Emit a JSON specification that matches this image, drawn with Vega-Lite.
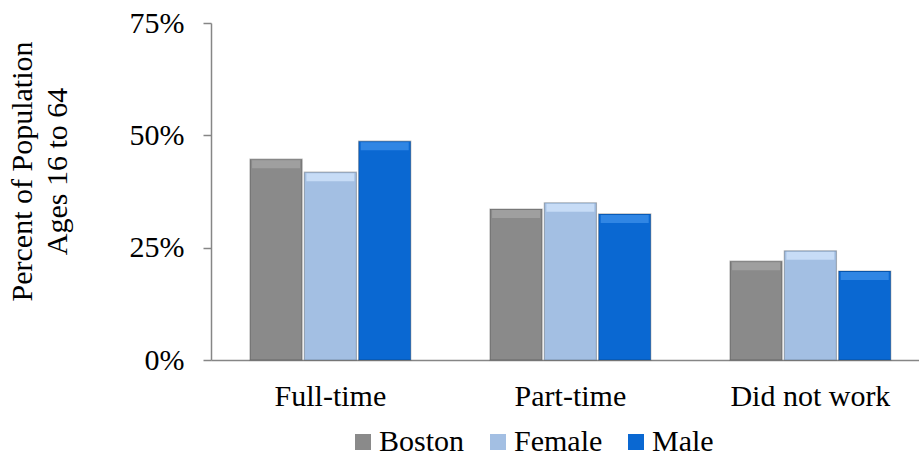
{
  "$schema": "https://vega.github.io/schema/vega-lite/v6.json",
  "width": 708,
  "height": 337,
  "autosize": "none",
  "padding": {"left": 211, "top": 23, "right": 0, "bottom": 97},
  "background": "white",
  "config": {
    "view": {"stroke": null},
    "font": "Liberation Serif",
    "axis": {"labelFont": "Liberation Serif", "titleFont": "Liberation Serif", "labelColor": "#000000", "titleColor": "#000000"},
    "legend": {"labelFont": "Liberation Serif", "labelColor": "#000000", "labelFontSize": 30}
  },
  "data": {
    "values": [
      {"status": "Full-time", "group": "Boston", "share": 0.447},
      {"status": "Full-time", "group": "Female", "share": 0.418},
      {"status": "Full-time", "group": "Male", "share": 0.487},
      {"status": "Part-time", "group": "Boston", "share": 0.336},
      {"status": "Part-time", "group": "Female", "share": 0.350},
      {"status": "Part-time", "group": "Male", "share": 0.325},
      {"status": "Did not work", "group": "Boston", "share": 0.220},
      {"status": "Did not work", "group": "Female", "share": 0.243},
      {"status": "Did not work", "group": "Male", "share": 0.198}
    ]
  },
  "encoding": {
    "x": {
      "field": "status",
      "type": "nominal",
      "sort": ["Full-time", "Part-time", "Did not work"],
      "scale": {"paddingInner": 0.33, "paddingOuter": 0.14, "align": 0.58},
      "axis": {
        "title": null,
        "labelAngle": 0,
        "labelFontSize": 30,
        "labelPadding": 21,
        "ticks": false,
        "domainColor": "#868686",
        "domainWidth": 1.5
      }
    },
    "xOffset": {
      "field": "group",
      "type": "nominal",
      "sort": ["Boston", "Female", "Male"],
      "scale": {"paddingInner": 0.04}
    },
    "y": {
      "field": "share",
      "type": "quantitative",
      "scale": {"domain": [0, 0.75], "nice": false},
      "axis": {
        "values": [0, 0.25, 0.5, 0.75],
        "format": ".0%",
        "grid": false,
        "labelFontSize": 30,
        "labelPadding": 19,
        "tickSize": 8,
        "tickColor": "#868686",
        "tickWidth": 1.5,
        "domainColor": "#868686",
        "domainWidth": 1.5,
        "title": ["Percent of Population", "Ages 16 to 64"],
        "titleFontSize": 30,
        "titleFontWeight": "normal",
        "titlePadding": 57,
        "titleLineHeight": 35,
        "titleY": 148
      }
    }
  },
  "layer": [
    {
      "mark": {"type": "bar", "stroke": "#000000", "strokeOpacity": 0.25, "strokeWidth": 1.2},
      "encoding": {
        "color": {
          "field": "group",
          "type": "nominal",
          "sort": ["Boston", "Female", "Male"],
          "scale": {"domain": ["Boston", "Female", "Male"], "range": ["#8a8a8a", "#a3bfe3", "#0a68d2"]},
          "legend": {
            "title": null,
            "orient": "none",
            "direction": "horizontal",
            "legendX": 137,
            "legendY": 404,
            "symbolType": "square",
            "symbolSize": 256,
            "symbolStrokeWidth": 0,
            "labelFont": "Liberation Serif",
            "labelColor": "#000000",
            "labelFontSize": 30,
            "columnPadding": 18,
            "labelOffset": 1
          }
        }
      }
    },
    {
      "mark": {"type": "tick", "thickness": 8, "size": 48, "yOffset": 5, "opacity": 0.8},
      "encoding": {
        "color": {
          "field": "group",
          "type": "nominal",
          "scale": {"domain": ["Boston", "Female", "Male"], "range": ["#a4a4a4", "#cfe3fa", "#3a8de9"]},
          "legend": null
        }
      }
    }
  ],
  "resolve": {"scale": {"color": "independent"}}
}
